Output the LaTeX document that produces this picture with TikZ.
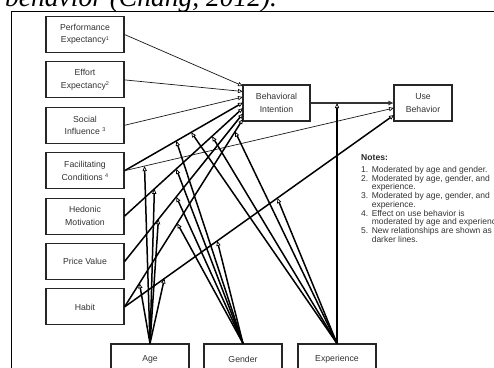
\documentclass[tikz,border=0pt]{standalone}
\usepackage{fontspec}
\setmainfont{Liberation Sans}
\newfontfamily\serifit{Liberation Serif}
\usetikzlibrary{arrows.meta,calc}
\newcommand\supnum[1]{\raisebox{2.8pt}{\fontsize{5.5}{6}\selectfont #1}}
\begin{document}
\begin{tikzpicture}[x=1pt,y=-1pt,
  box/.style={draw=black!85, line width=1.1pt, minimum width=78pt, minimum height=36pt,
    inner sep=0pt, align=center, text=black!80, font=\fontsize{8.7}{12.5}\selectfont},
  tip/.style={-{Triangle[open,length=5pt,width=4.2pt,line width=0.7pt]}},
  thinarr/.style={tip, line width=0.7pt, black!90},
  thickarr/.style={tip, line width=1.5pt, black},
  midarr/.style={-{Triangle[length=5pt,width=4.2pt]}, line width=1.3pt, black!80},
  modarr/.style={tip, line width=1.5pt, black}]
\useasboundingbox (0,0) rectangle (494,367);
\clip (0,0) rectangle (494,367);
% page frame and caption tail
\node[anchor=base west, inner sep=0pt, font=\serifit\itshape\fontsize{27.5}{30}\selectfont] (title) at (5,6.8) {behavior (Chang, 2012).};
\draw[line width=1.6pt] (11.5,400) |- (520,11.5);
% construct boxes
\node[box] (pe) at (85,34.5) {Performance\\Expectancy\supnum{1}};
\node[box] (ee) at (85,79.9) {Effort\\Expectancy\supnum{2}};
\node[box] (si) at (85,125.3) {Social\\Influence \supnum{3}};
\node[box] (fc) at (85,170.7) {Facilitating\\Conditions \supnum{4}};
\node[box] (hm) at (85,216.1) {Hedonic\\Motivation};
\node[box] (pv) at (85,261.5) {Price Value};
\node[box] (hab) at (85,306.9) {Habit};
\node[box, minimum width=67pt] (bi) at (276.5,103) {Behavioral\\Intention};
\node[box, minimum width=58pt] (ub) at (423,103) {Use\\Behavior};
\node[box, minimum height=30pt] (age) at (150,359) {Age};
\node[box, minimum height=30pt] (gen) at (243,359) {Gender};
\node[box, minimum height=30pt] (exp) at (337,359) {Experience};
% entry points
\coordinate (bi1) at (243,86);
\coordinate (bi2) at (243,91.5);
\coordinate (bi3) at (243,97);
\coordinate (bi4) at (243,102.5);
\coordinate (bi5) at (243,108);
\coordinate (bi6) at (243,113.5);
\coordinate (bi7) at (243,119);
\coordinate (ub1) at (394,108);
\coordinate (ub2) at (394,115);
% main paths
\draw[thinarr] (pe.east) -- (bi1);
\draw[thinarr] (ee.east) -- (bi2);
\draw[thinarr] (si.east) -- (bi3);
\draw[thickarr] (fc.east) -- (bi4);
\draw[thinarr] (fc.east) -- (ub1);
\draw[thickarr] (hm.east) -- (bi5);
\draw[thickarr] (pv.east) -- (bi6);
\draw[thickarr] (hab.east) -- (bi7);
\draw[thickarr] (hab.east) -- (ub2);
\draw[midarr] (bi.east) -- (ub.west);
% moderation targets
\coordinate (a1) at ($(fc.east)!0.0741!(ub1)$);
\coordinate (a2) at ($(hm.east)!0.252!(bi5)$);
\coordinate (a3) at ($(pv.east)!0.286!(bi6)$);
\coordinate (a4) at ($(hab.east)!0.126!(bi7)$);
\coordinate (a5) at ($(hab.east)!0.148!(ub2)$);
\coordinate (g1) at ($(fc.east)!0.437!(bi4)$);
\coordinate (g2) at ($(hm.east)!0.437!(bi5)$);
\coordinate (g3) at ($(pv.east)!0.437!(bi6)$);
\coordinate (g4) at ($(hab.east)!0.445!(bi7)$);
\coordinate (g5) at ($(hab.east)!0.344!(ub2)$);
\coordinate (e1) at ($(fc.east)!0.563!(bi4)$);
\coordinate (e2) at ($(hm.east)!0.739!(bi5)$);
\coordinate (e3) at ($(hab.east)!0.933!(bi7)$);
\coordinate (e4) at ($(hab.east)!0.567!(ub2)$);
\coordinate (e5) at (exp.north |- bi.east);
% moderators
\foreach \t in {a1,a2,a3,a4,a5} \draw[modarr] (age.north) -- (\t);
\foreach \t in {g1,g2,g3,g4,g5} \draw[modarr] (gen.north) -- (\t);
\foreach \t in {e1,e2,e3,e4,e5} \draw[modarr] (exp.north) -- (\t);
% notes
\node[anchor=base west, inner sep=0pt, text=black!85, font=\bfseries\fontsize{8.6}{9}\selectfont] (notes) at (361,160.5) {Notes:};
\node[anchor=north west, inner sep=0pt, text=black!80, font=\fontsize{8.5}{8.5}\selectfont] (notelist) at (361,166.2) {%
\begin{tabular}{@{}l@{\hspace{3.5pt}}l@{}}
1. & Moderated by age and gender.\\
2. & Moderated by age, gender, and\\
   & experience.\\
3. & Moderated by age, gender, and\\
   & experience.\\
4. & Effect on use behavior is\\
   & moderated by age and experience.\\
5. & New relationships are shown as\\
   & darker lines.
\end{tabular}};
\end{tikzpicture}
\end{document}
